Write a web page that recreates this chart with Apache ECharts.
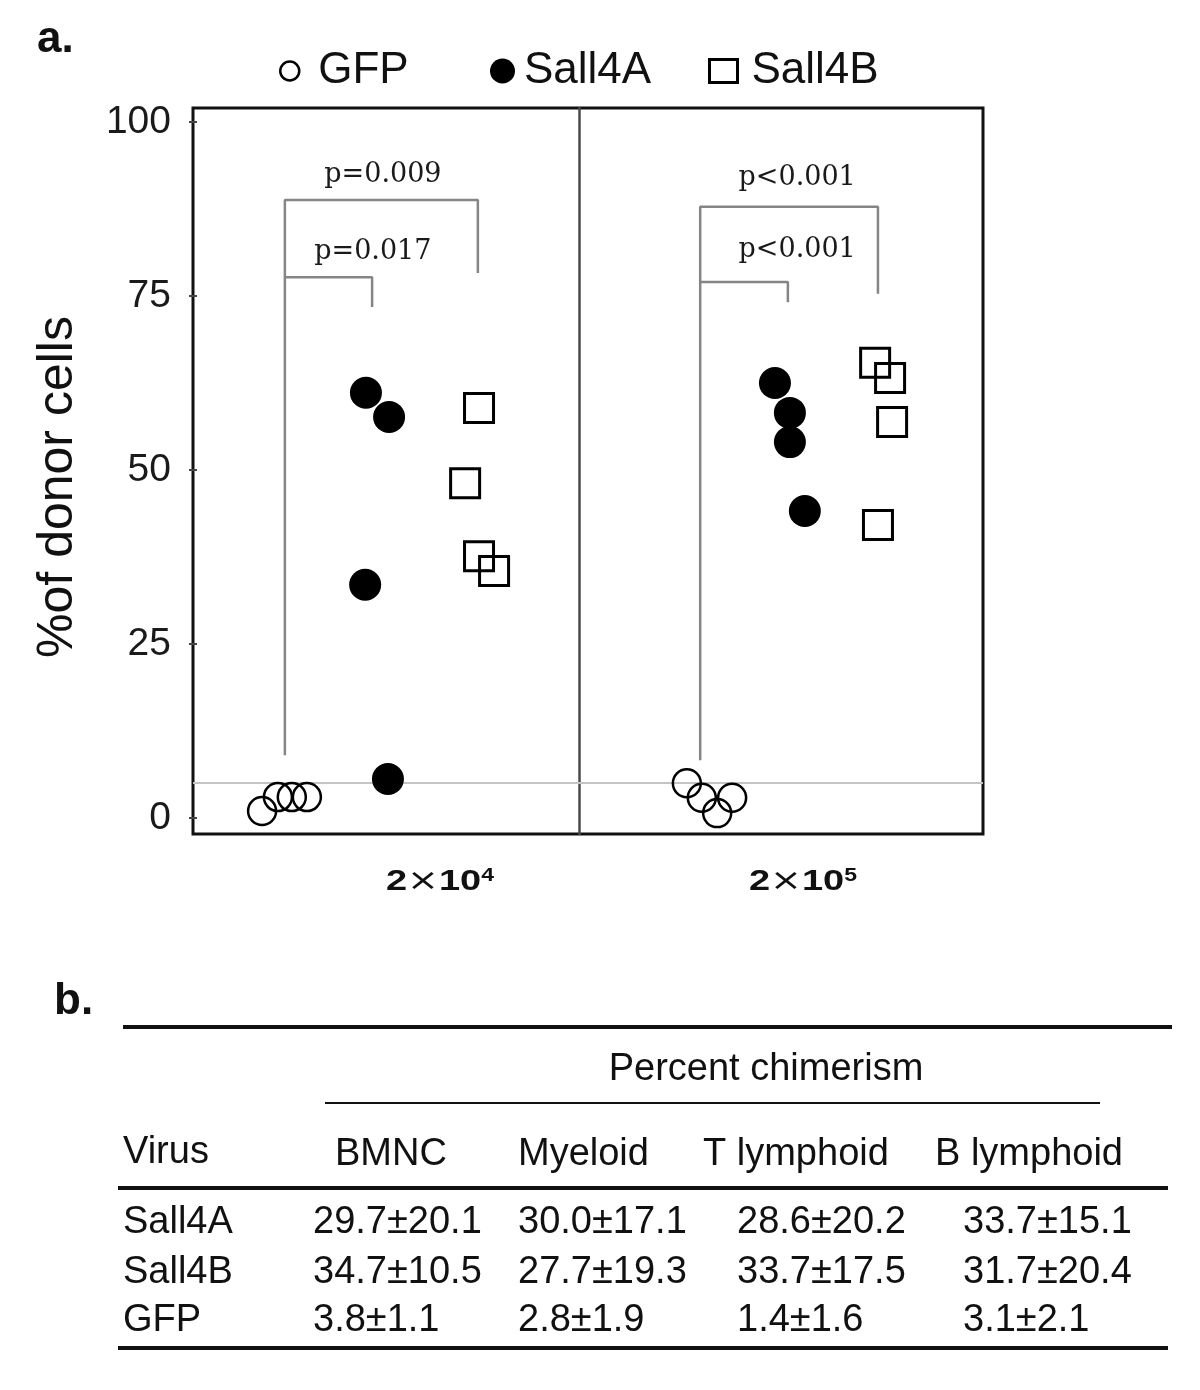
<!DOCTYPE html>
<html>
<head>
<meta charset="utf-8">
<script src="https://cdn.jsdelivr.net/npm/echarts@6.0.0/dist/echarts.min.js"></script>
<style>
  html, body { margin: 0; padding: 0; background: #fff; }
  #chart { width: 1200px; height: 1390px; }
</style>
</head>
<body>
<div id="chart"></div>
<script>
// ---------------- DATA ----------------
const seriesNames = ['GFP', 'Sall4A', 'Sall4B'];
const panelLabels = [['2', '10', '4'], ['2', '10', '5']];
const yTicks = [0, 25, 50, 75, 100];
const detectionLine = 5;

// Panel 1 (2x10^4) : x = jitter position within panel (0..1), y = % of donor cells
const gfpX1 = [0.179, 0.220, 0.256, 0.295];
const gfpY1 = [1.0, 3.0, 3.0, 3.0];
const sall4aX1 = [0.448, 0.508, 0.446, 0.505];
const sall4aY1 = [61.1, 57.6, 33.5, 5.6];
const sall4bX1 = [0.741, 0.705, 0.741, 0.780];
const sall4bY1 = [58.9, 48.1, 37.6, 35.5];

// Panel 2 (2x10^5)
const gfpX2 = [0.267, 0.304, 0.379, 0.342];
const gfpY2 = [5.0, 2.9, 2.9, 0.7];
const sall4aX2 = [0.485, 0.522, 0.522, 0.559];
const sall4aY2 = [62.5, 58.2, 54.0, 44.1];
const sall4bX2 = [0.733, 0.770, 0.775, 0.740];
const sall4bY2 = [65.4, 63.2, 56.9, 42.1];

// significance brackets
const bracketOuter1 = [[0.238, 9.0], [0.238, 88.8], [0.738, 88.8], [0.738, 78.3]];
const bracketInner1 = [[0.238, 77.7], [0.464, 77.7], [0.464, 73.4]];
const bracketOuter2 = [[0.300, 8.3], [0.300, 87.8], [0.740, 87.8], [0.740, 75.3]];
const bracketInner2 = [[0.300, 77.0], [0.517, 77.0], [0.517, 74.1]];
const pText1 = ['p=0.009', 'p=0.017'];
const pPos1 = [[0.492, 92.4], [0.466, 81.3]];
const pText2 = ['p<0.001', 'p<0.001'];
const pPos2 = [[0.540, 92.0], [0.540, 81.6]];

// table (b.)
const tableTitle = 'Percent chimerism';
const tableFirstHeader = 'Virus';
const tableColumns = ['BMNC', 'Myeloid', 'T lymphoid', 'B lymphoid'];
const tableRows = ['Sall4A', 'Sall4B', 'GFP'];
const tableValues = [
  ['29.7±20.1', '30.0±17.1', '28.6±20.2', '33.7±15.1'],
  ['34.7±10.5', '27.7±19.3', '33.7±17.5', '31.7±20.4'],
  ['3.8±1.1', '2.8±1.9', '1.4±1.6', '3.1±2.1']
];

// ---------------- STYLE / LAYOUT ----------------
const FONT = "'Liberation Sans', Arial, sans-serif";
const SERIF = "'DejaVu Serif', 'Liberation Serif', serif";
const INK = '#111';

const styles = {
  GFP: { symbol: 'circle', symbolSize: 28, itemStyle: { color: 'rgba(0,0,0,0)', borderColor: '#000', borderWidth: 2.5, opacity: 1 } },
  Sall4A: { symbol: 'circle', symbolSize: 32, itemStyle: { color: '#000', borderWidth: 0, opacity: 1 } },
  Sall4B: { symbol: 'rect', symbolSize: 29, itemStyle: { color: 'rgba(0,0,0,0)', borderColor: '#000', borderWidth: 3, opacity: 1 } }
};

function pts(xs, ys) { return xs.map((x, i) => [x, ys[i]]); }

function scatter(name, xs, ys, gi, withLine) {
  const s = Object.assign({
    type: 'scatter', name: name, xAxisIndex: gi, yAxisIndex: gi,
    data: pts(xs, ys), z: 5, emphasis: { disabled: true }
  }, styles[name]);
  if (withLine) {
    s.markLine = {
      silent: true, symbol: 'none', label: { show: false },
      lineStyle: { color: '#c4c4c4', width: 2, type: 'solid', opacity: 1 },
      data: [{ yAxis: detectionLine }], z: 1
    };
  }
  return s;
}
function bracket(data, gi) {
  return { type: 'line', name: 'bracket', xAxisIndex: gi, yAxisIndex: gi, data: data,
    showSymbol: false, symbol: 'none', silent: true, z: 3,
    lineStyle: { color: '#858585', width: 2.5, opacity: 1 } };
}
function pLabels(texts, pos, gi) {
  return { type: 'scatter', name: 'pvalue', xAxisIndex: gi, yAxisIndex: gi,
    symbolSize: 1, itemStyle: { color: 'rgba(0,0,0,0)', opacity: 1 }, silent: true, z: 6,
    data: pos.map((p, i) => ({ value: p, name: texts[i] })),
    label: { show: true, position: 'inside', formatter: '{b}', opacity: 1,
      fontFamily: SERIF, fontSize: 27, color: '#1a1a1a' } };
}

const grids = [
  { left: 193, top: 108, width: 386, height: 726 },
  { left: 579, top: 108, width: 404, height: 726 },
  { left: 193, top: 108, width: 790, height: 726, show: true, borderColor: INK, borderWidth: 3, backgroundColor: 'rgba(0,0,0,0)' }
];

const yRange = { min: -2.3, max: 102 };
const yAxes = [
  Object.assign({ type: 'value', gridIndex: 0, splitLine: { show: false },
    axisLine: { show: false },
    axisTick: { show: true, customValues: yTicks, length: 4, lineStyle: { color: '#444', width: 2 } },
    axisLabel: { customValues: yTicks, fontFamily: FONT, fontSize: 39, color: '#1a1a1a', margin: 22 },
    name: '%of donor cells', nameLocation: 'middle', nameRotate: 90, nameGap: 110,
    nameTextStyle: { fontFamily: FONT, fontSize: 50, color: INK, padding: [0, 32, 0, 0] }
  }, yRange),
  Object.assign({ type: 'value', gridIndex: 1, splitLine: { show: false },
    axisLine: { show: true, lineStyle: { color: '#4a4a4a', width: 2.5 } },
    axisTick: { show: false }, axisLabel: { show: false } }, yRange),
  Object.assign({ type: 'value', gridIndex: 2, position: 'right', splitLine: { show: false },
    axisLine: { show: false },
    axisTick: { show: true, customValues: yTicks, length: 4, lineStyle: { color: '#444', width: 2 } },
    axisLabel: { show: false } }, yRange)
];
const xAxes = [0, 1, 2].map(i => ({
  type: 'value', gridIndex: i, min: 0, max: 1, show: i !== 2,
  axisLine: { show: false }, axisTick: { show: false }, axisLabel: { show: false }, splitLine: { show: false }
}));

const series = [
  scatter('GFP', gfpX1, gfpY1, 0, true),
  scatter('Sall4A', sall4aX1, sall4aY1, 0),
  scatter('Sall4B', sall4bX1, sall4bY1, 0),
  scatter('GFP', gfpX2, gfpY2, 1, true),
  scatter('Sall4A', sall4aX2, sall4aY2, 1),
  scatter('Sall4B', sall4bX2, sall4bY2, 1),
  bracket(bracketOuter1, 0), bracket(bracketInner1, 0),
  bracket(bracketOuter2, 1), bracket(bracketInner2, 1),
  pLabels(pText1, pPos1, 0), pLabels(pText2, pPos2, 1)
];

const legendText = { fontFamily: FONT, fontSize: 44, color: INK };
const legends = [
  { data: [{ name: 'GFP', icon: 'circle', itemStyle: { color: 'rgba(0,0,0,0)', borderColor: '#000', borderWidth: 2.5, opacity: 1 } }],
    left: 279, top: 49, itemWidth: 19, itemHeight: 19, padding: 0, selectedMode: false,
    textStyle: Object.assign({ padding: [0, 0, 0, 14] }, legendText) },
  { data: [{ name: 'Sall4A', icon: 'circle', itemStyle: { color: '#000', opacity: 1 } }],
    left: 490, top: 49, itemWidth: 25, itemHeight: 25, padding: 0, selectedMode: false,
    textStyle: Object.assign({ padding: [0, 0, 0, 4] }, legendText) },
  { data: [{ name: 'Sall4B', icon: 'rect', itemStyle: { color: 'rgba(0,0,0,0)', borderColor: '#000', borderWidth: 3, opacity: 1 } }],
    left: 708, top: 49, itemWidth: 28, itemHeight: 23, padding: 0, selectedMode: false,
    textStyle: Object.assign({ padding: [0, 0, 0, 9] }, legendText) }
];

// ---------------- GRAPHIC: panel letters, x labels, table ----------------
const graphics = [];
function txt(x, y, text, opts) {
  graphics.push({ type: 'text', x: x, y: y, silent: true,
    style: Object.assign({ text: text, fontFamily: FONT, fontSize: 38, fill: INK, align: 'left', verticalAlign: 'middle' }, opts || {}) });
}
function hline(x1, x2, y, w) {
  graphics.push({ type: 'line', silent: true, shape: { x1: x1, y1: y, x2: x2, y2: y }, style: { stroke: INK, lineWidth: w } });
}
txt(37, 40, 'a.', { fontSize: 44, fontWeight: 'bold' });
txt(54, 1002, 'b.', { fontSize: 44, fontWeight: 'bold' });

const xLabelCenters = [440, 803];
panelLabels.forEach((p, i) => {
  graphics.push({ type: 'text', x: xLabelCenters[i], y: 882, scaleY: 0.78, silent: true,
    style: { text: '{b|' + p[0] + '}{m|×}{b|' + p[1] + '}{s|' + p[2] + '}', align: 'center', verticalAlign: 'middle',
      rich: {
        b: { fontFamily: FONT, fontSize: 38, fontWeight: 'bold', fill: INK },
        m: { fontFamily: 'DejaVu Sans, ' + FONT, fontSize: 38, fill: INK },
        s: { fontFamily: FONT, fontSize: 23, fontWeight: 'bold', fill: INK, verticalAlign: 'top' }
      } } });
});

hline(123, 1172, 1027, 4);
txt(766, 1070, tableTitle, { align: 'center' });
hline(325, 1100, 1103, 2);
txt(123, 1153, tableFirstHeader);
const headerLeft = [335, 518, 703, 935];
tableColumns.forEach((c, i) => txt(headerLeft[i], 1155, c));
hline(118, 1168, 1188, 4);
const rowY = [1223, 1273, 1321];
const valueLeft = [313, 518, 737, 963];
tableRows.forEach((r, j) => {
  txt(123, rowY[j], r);
  tableValues[j].forEach((v, i) => txt(valueLeft[i], rowY[j], v));
});
hline(118, 1168, 1348, 4);

const chart = echarts.init(document.getElementById('chart'), null, { renderer: 'canvas', width: 1200, height: 1390 });
chart.setOption({
  backgroundColor: '#fff',
  animation: false,
  textStyle: { fontFamily: FONT },
  legend: legends,
  grid: grids,
  xAxis: xAxes,
  yAxis: yAxes,
  series: series,
  graphic: graphics
});
</script>
</body>
</html>
